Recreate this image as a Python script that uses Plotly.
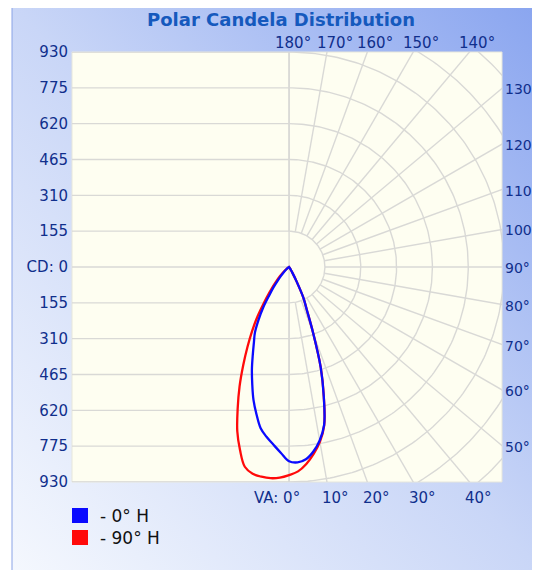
import base64
import numpy as np
import plotly.graph_objects as go

# ---------------- data ----------------
va_deg = [0, 2.5, 5, 7.5, 10, 12.5, 15, 17.5, 20, 22.5, 25, 27.5, 30, 32.5, 35,
          37.5, 40, 42.5, 45, 50, 55, 60, 65, 70, 80, 90]
# 0° H plane (drawn on the right) and its opposite 180° H plane (drawn on the left)
cd_0H = [840, 846, 835, 805, 762, 700, 580, 455, 305, 200, 145, 70, 28, 12, 6,
         3, 2, 1, 0, 0, 0, 0, 0, 0, 0, 0]
cd_180H = [840, 805, 772, 742, 708, 652, 595, 530, 470, 410, 360, 320, 265, 210, 150,
           110, 75, 52, 35, 15, 5, 0, 0, 0, 0, 0]
# 90° H plane (right) and 270° H plane (left)
cd_90H = [900, 885, 855, 815, 768, 702, 580, 455, 305, 200, 145, 70, 28, 12, 6,
          3, 2, 1, 0, 0, 0, 0, 0, 0, 0, 0]
cd_270H = [900, 912, 917, 915, 908, 885, 820, 745, 650, 560, 470, 390, 320, 255, 190,
           140, 105, 78, 55, 25, 10, 3, 0, 0, 0, 0]

cd_ticks = [930, 775, 620, 465, 310, 155, 0, -155, -310, -465, -620, -775, -930]
cd_ticktext = ["930", "775", "620", "465", "310", "155", "CD: 0",
               "155", "310", "465", "620", "775", "930"]
ring_step = 155
spoke_angles = list(range(0, 181, 10))
bottom_labels = [0, 10, 20, 30, 40]
top_labels = [180, 170, 160, 150, 140]
right_labels = [130, 120, 110, 100, 90, 80, 70, 60, 50]

series_names = ["- 0° H", "- 90° H"]
series_colors = ["#0a0aff", "#ff0a0a"]

# ---------------- geometry ----------------
# page body has an 8px margin: work in window pixels, convert to figure pixels
OFF = 8
R = 930
XMIN, XMAX = -939, 921
W, H = 540, 570
PL, PR, PT, PB = 72, 502, 52, 482          # plot area in window pixels
ML, MR, MT, MB = PL - OFF, W - (PR - OFF), PT - OFF, H - (PB - OFF)
PW, PH = PR - PL, PB - PT


def px2paper(wx, wy):
    """window pixel -> paper coords"""
    return (wx - PL) / PW, (PB - wy) / PH


def curve_xy(left, right):
    a = np.radians(va_deg)
    l = np.array(left, float)
    r = np.array(right, float)
    xl, yl = -l * np.sin(a), -l * np.cos(a)
    xr, yr = r * np.sin(a), -r * np.cos(a)
    x = np.concatenate([xl[::-1], xr[1:]])
    y = np.concatenate([yl[::-1], yr[1:]])
    return x, y


grid_color = "#d9d9d6"
fig = go.Figure()

# left half: horizontal lines + vertical axis line
gx, gy = [], []
for v in cd_ticks:
    gx += [XMIN, 0, None]
    gy += [v, v, None]
gx += [0, 0, None]
gy += [-R, R, None]
# right half: rings
t = np.radians(np.linspace(0, 180, 181))
for k in range(1, 9):
    rr = k * ring_step
    gx += list(rr * np.sin(t)) + [None]
    gy += list(-rr * np.cos(t)) + [None]
# right half: spokes starting at the first ring
for ang in spoke_angles:
    a = np.radians(ang)
    gx += [ring_step * np.sin(a), 3000 * np.sin(a), None]
    gy += [-ring_step * np.cos(a), -3000 * np.cos(a), None]
fig.add_trace(go.Scatter(x=gx, y=gy, mode="lines",
                         line=dict(color=grid_color, width=1.4),
                         hoverinfo="skip", showlegend=False))

# curves: red first, blue on top
for (left, right), name, col in [((cd_270H, cd_90H), series_names[1], series_colors[1]),
                                 ((cd_180H, cd_0H), series_names[0], series_colors[0])]:
    x, y = curve_xy(left, right)
    fig.add_trace(go.Scatter(x=x, y=y, mode="lines", name=name,
                             line=dict(color=col, width=2.3, shape="spline", smoothing=1.0),
                             showlegend=False))

lab_font = dict(family="DejaVu Sans", size=15, color="#102f8c")
ann = []
for ang in bottom_labels:
    xb = R * np.tan(np.radians(ang))
    if ang == 0:
        ann.append(dict(x=xb, y=-R, text="VA: 0°", xanchor="right", yanchor="middle",
                        xshift=13, yshift=-16, showarrow=False, font=lab_font))
    else:
        ann.append(dict(x=xb, y=-R, text=f"{ang}°", xanchor="center", yanchor="middle",
                        xshift=9, yshift=-16, showarrow=False, font=lab_font))
for ang in top_labels:
    xt = -R * np.tan(np.radians(ang))
    ann.append(dict(x=xt, y=R, text=f"{ang}°", xanchor="center", yanchor="middle",
                    xshift=4 if ang == 180 else 8, yshift=9, showarrow=False, font=lab_font))
for ang in right_labels:
    a = np.radians(ang)
    yr_ = -XMAX * np.cos(a) / np.sin(a)
    ann.append(dict(x=XMAX, y=yr_, text=f"{ang}°", xanchor="left", yanchor="middle",
                    xshift=1, yshift=-1, showarrow=False,
                    font=dict(family="DejaVu Sans", size=14, color="#102f8c")))

# legend (squares + text)
shapes = []
# plot-area fill
shapes.append(dict(type="rect", xref="paper", yref="paper", x0=0, x1=1, y0=0, y1=1,
                   fillcolor="#fefef1", line=dict(color="#e6e6dc", width=1), layer="below"))
for i, (name, col) in enumerate(zip(series_names, series_colors)):
    x0, y0 = px2paper(72, 508 + 22 * i)
    x1, y1 = px2paper(88, 523 + 22 * i)
    shapes.append(dict(type="rect", xref="paper", yref="paper", x0=x0, x1=x1, y0=y1, y1=y0,
                       fillcolor=col, line=dict(color=col, width=0)))
    tx, ty = px2paper(98, 516 + 22 * i)
    ann.append(dict(xref="paper", yref="paper", x=tx, y=ty, text=name, xanchor="left",
                    yanchor="middle", showarrow=False,
                    font=dict(family="DejaVu Sans", size=17, color="#111111")))

# panel + border
bx0, by0 = px2paper(12, 5)
bx1, by1 = px2paper(560, 590)
shapes.append(dict(type="rect", xref="paper", yref="paper", x0=bx0, x1=bx1, y0=by1, y1=by0,
                   line=dict(color="#8aa3e6", width=1), fillcolor="rgba(0,0,0,0)", layer="below"))

svg = ('<svg xmlns="http://www.w3.org/2000/svg" width="548" height="585" preserveAspectRatio="none">'
       '<defs><linearGradient id="g" x1="0" y1="1" x2="1" y2="0">'
       '<stop offset="0" stop-color="#f6f9fe"/><stop offset="0.5" stop-color="#c9d6f7"/>'
       '<stop offset="1" stop-color="#87a3ef"/></linearGradient></defs>'
       '<rect width="548" height="585" fill="url(#g)"/></svg>')
src = "data:image/svg+xml;base64," + base64.b64encode(svg.encode()).decode()

tx_title, _ = px2paper(281, 0)
fig.update_layout(
    width=W, height=H,
    margin=dict(l=ML, r=MR, t=MT, b=MB, pad=0),
    paper_bgcolor="white",
    plot_bgcolor="#fefef1",
    title=dict(text="<b>Polar Candela Distribution</b>", x=tx_title, xref="paper",
               xanchor="center", y=1 - (20 - OFF) / H, yref="container", yanchor="middle",
               font=dict(family="DejaVu Sans", size=18, color="#1559bd")),
    xaxis=dict(range=[XMIN, XMAX], visible=False, fixedrange=True),
    yaxis=dict(range=[-R, R], tickvals=cd_ticks, ticktext=cd_ticktext, showgrid=False,
               zeroline=False, ticks="", tickfont=lab_font, ticklabelstandoff=3,
               showline=False, fixedrange=True),
    annotations=ann,
    shapes=shapes,
    images=[dict(source=src, xref="paper", yref="paper", x=bx0, y=by0,
                 sizex=bx1 - bx0, sizey=by0 - by1, xanchor="left", yanchor="top",
                 sizing="stretch", layer="below")],
)

fig.write_html("out.html")
